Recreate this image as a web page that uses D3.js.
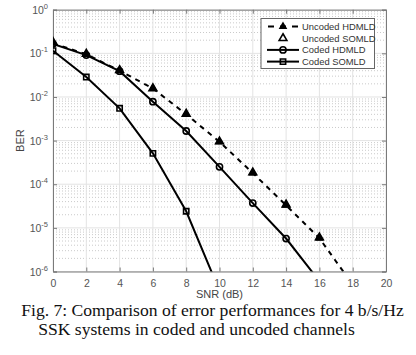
<!DOCTYPE html>
<html>
<head>
<meta charset="utf-8">
<script src="https://cdn.jsdelivr.net/npm/d3@7"></script>
<style>
	body { margin: 0; background: #fff; }
	svg { display: block; }
</style>
</head>
<body>
<div id="chart"></div>
<script>
// data
const snr = [0, 2, 4, 6, 8, 10, 12, 14, 16, 18];
const uncodedHdmld = [0.17, 0.095, 0.04, 0.0157, 0.004, 9.4e-4, 1.8e-4, 3.3e-5, 5.8e-6, 5e-7];
const uncodedSomld = [0.18, 0.097, 0.041, 0.0157, 0.0041, 9.5e-4, 1.85e-4, 3.4e-5, 6e-6, 5e-7];
const codedHdmld = [0.165, 0.091, 0.039, 0.0078, 0.00166, 2.5e-4, 3.7e-5, 5.7e-6, 6e-7];
const codedSomld = [0.115, 0.0286, 0.0055, 5.1e-4, 2.4e-5, 3.6e-7];
const xTicks = [0, 2, 4, 6, 8, 10, 12, 14, 16, 18, 20];
const yTicks = [1, 1e-1, 1e-2, 1e-3, 1e-4, 1e-5, 1e-6];
const legendLabels = ["Uncoded HDMLD", "Uncoded SOMLD", "Coded HDMLD", "Coded SOMLD"];
const captionLines = [
	"Fig. 7: Comparison of error performances for 4 b/s/Hz",
	"SSK systems in coded and uncoded channels"
];

{ // start block scope

const width = 416, height = 355;
const pLeft = 53, pRight = 386, pTop = 9.7, pBottom = 271.5;

const svg = d3.select("#chart").append("svg")
	.attr("width", width).attr("height", height);

const x = d3.scaleLinear().domain([0, 20]).range([pLeft, pRight]);
const y = d3.scaleLog().domain([1e-6, 1]).range([pBottom, pTop]);

const axisGray = "#7a7a7a";
const textGray = "#555";

// grid
const minorY = [];
for (let e = -6; e < 0; e++) for (let m = 2; m <= 9; m++) minorY.push(m * Math.pow(10, e));

svg.append("g").selectAll("line").data(minorY).join("line")
	.attr("x1", pLeft).attr("x2", pRight)
	.attr("y1", d => y(d)).attr("y2", d => y(d))
	.attr("stroke", "#bdbdbd").attr("stroke-width", 0.8)
	.attr("stroke-dasharray", "1,2");

svg.append("g").selectAll("line").data(yTicks).join("line")
	.attr("x1", pLeft).attr("x2", pRight)
	.attr("y1", d => y(d)).attr("y2", d => y(d))
	.attr("stroke", "#e3e3e3").attr("stroke-width", 1);

svg.append("g").selectAll("line").data(xTicks).join("line")
	.attr("x1", d => x(d)).attr("x2", d => x(d))
	.attr("y1", pTop).attr("y2", pBottom)
	.attr("stroke", "#e3e3e3").attr("stroke-width", 1);

// axes (ticks inside, box on)
svg.append("g").attr("transform", `translate(0,${pBottom})`)
	.call(d3.axisBottom(x).tickValues(xTicks).tickSize(-4).tickPadding(8))
	.call(g => g.select(".domain").attr("stroke", axisGray))
	.call(g => g.selectAll(".tick line").attr("stroke", axisGray))
	.call(g => g.selectAll("text").attr("fill", textGray)
		.style("font", "10.5px 'Liberation Sans', Arial, sans-serif"));

svg.append("g").attr("transform", `translate(0,${pTop})`)
	.call(d3.axisTop(x).tickValues(xTicks).tickSize(-4).tickFormat(""))
	.call(g => g.select(".domain").attr("stroke", axisGray))
	.call(g => g.selectAll(".tick line").attr("stroke", axisGray));

svg.append("g").attr("transform", `translate(${pLeft},0)`)
	.call(d3.axisLeft(y).tickValues(yTicks).tickSize(-4).tickFormat(""))
	.call(g => g.select(".domain").attr("stroke", axisGray))
	.call(g => g.selectAll(".tick line").attr("stroke", axisGray));

svg.append("g").attr("transform", `translate(${pRight},0)`)
	.call(d3.axisRight(y).tickValues(yTicks).tickSize(-4).tickFormat(""))
	.call(g => g.select(".domain").attr("stroke", axisGray))
	.call(g => g.selectAll(".tick line").attr("stroke", axisGray));

// y tick labels 10^n
const yLab = svg.append("g").selectAll("text").data(yTicks).join("text")
	.attr("x", pLeft - 5).attr("y", d => y(d) + 4)
	.attr("text-anchor", "end").attr("fill", textGray)
	.style("font", "10.5px 'Liberation Sans', Arial, sans-serif");
yLab.append("tspan").text("10");
yLab.append("tspan").attr("dy", -5).style("font-size", "7.5px")
	.text(d => String(Math.round(Math.log10(d))));

// axis titles
svg.append("text").attr("x", (pLeft + pRight) / 2).attr("y", 298)
	.attr("text-anchor", "middle").attr("fill", "#444")
	.style("font", "11px 'Liberation Sans', Arial, sans-serif")
	.text("SNR (dB)");
svg.append("text").attr("transform", `translate(24,${(pTop + pBottom) / 2}) rotate(-90)`)
	.attr("text-anchor", "middle").attr("fill", "#444")
	.style("font", "11px 'Liberation Sans', Arial, sans-serif")
	.text("BER");

// series
svg.append("clipPath").attr("id", "plot").append("rect")
	.attr("x", pLeft).attr("y", pTop).attr("width", pRight - pLeft).attr("height", pBottom - pTop);
const plot = svg.append("g").attr("clip-path", "url(#plot)");

const line = d3.line().x(d => x(d[0])).y(d => y(d[1]));
const pts = vals => vals.map((v, i) => [snr[i], v]);

const series = [
	{ data: pts(uncodedHdmld), dash: "5,5", symbol: d3.symbolTriangle, size: 15, fill: "#000", showLine: true },
	{ data: pts(uncodedSomld), dash: null, symbol: d3.symbolTriangle, size: 26, fill: "none", showLine: false },
	{ data: pts(codedHdmld), dash: null, symbol: d3.symbolCircle, size: 30, fill: "none", showLine: true },
	{ data: pts(codedSomld), dash: null, symbol: d3.symbolSquare, size: 28, fill: "none", showLine: true }
];

series.forEach(s => {
	if (s.showLine) {
		plot.append("path").datum(s.data)
			.attr("d", line).attr("fill", "none")
			.attr("stroke", "#000").attr("stroke-width", 2)
			.attr("stroke-dasharray", s.dash);
	}
	plot.append("g").selectAll("path").data(s.data).join("path")
		.attr("transform", d => `translate(${x(d[0])},${y(d[1])})`)
		.attr("d", d3.symbol().type(s.symbol).size(s.size))
		.attr("fill", s.fill).attr("stroke", "#000").attr("stroke-width", 1.6);
});

// legend
const lg = svg.append("g");
lg.append("rect").attr("x", 261).attr("y", 18.5).attr("width", 113.5).attr("height", 50)
	.attr("fill", "#fff").attr("stroke", "#666").attr("stroke-width", 1);
legendLabels.forEach((label, i) => {
	const s = series[i];
	const ly = 26.5 + i * 11.7;
	if (s.showLine) {
		lg.append("line").attr("x1", 267).attr("x2", 299).attr("y1", ly).attr("y2", ly)
			.attr("stroke", "#000").attr("stroke-width", 2)
			.attr("stroke-dasharray", s.dash ? "6,6" : null)
			.attr("stroke-dashoffset", s.dash ? -1 : null);
	}
	lg.append("path").attr("transform", `translate(283,${ly})`)
		.attr("d", d3.symbol().type(s.symbol).size(s.size))
		.attr("fill", s.fill).attr("stroke", "#000").attr("stroke-width", 1.6);
	lg.append("text").attr("x", 302).attr("y", ly + 3.3).attr("fill", "#333")
		.style("font", "9.4px 'Liberation Sans', Arial, sans-serif")
		.text(label);
});

// caption
svg.append("g").selectAll("text").data(captionLines).join("text")
	.attr("x", (d, i) => i === 0 ? 212.5 : 196.5)
	.attr("y", (d, i) => 316 + i * 19)
	.attr("text-anchor", "middle").attr("fill", "#111")
	.style("font", "17.6px 'Liberation Serif', 'Times New Roman', serif")
	.text(d => d);

} // end block scope
</script>
</body>
</html>
